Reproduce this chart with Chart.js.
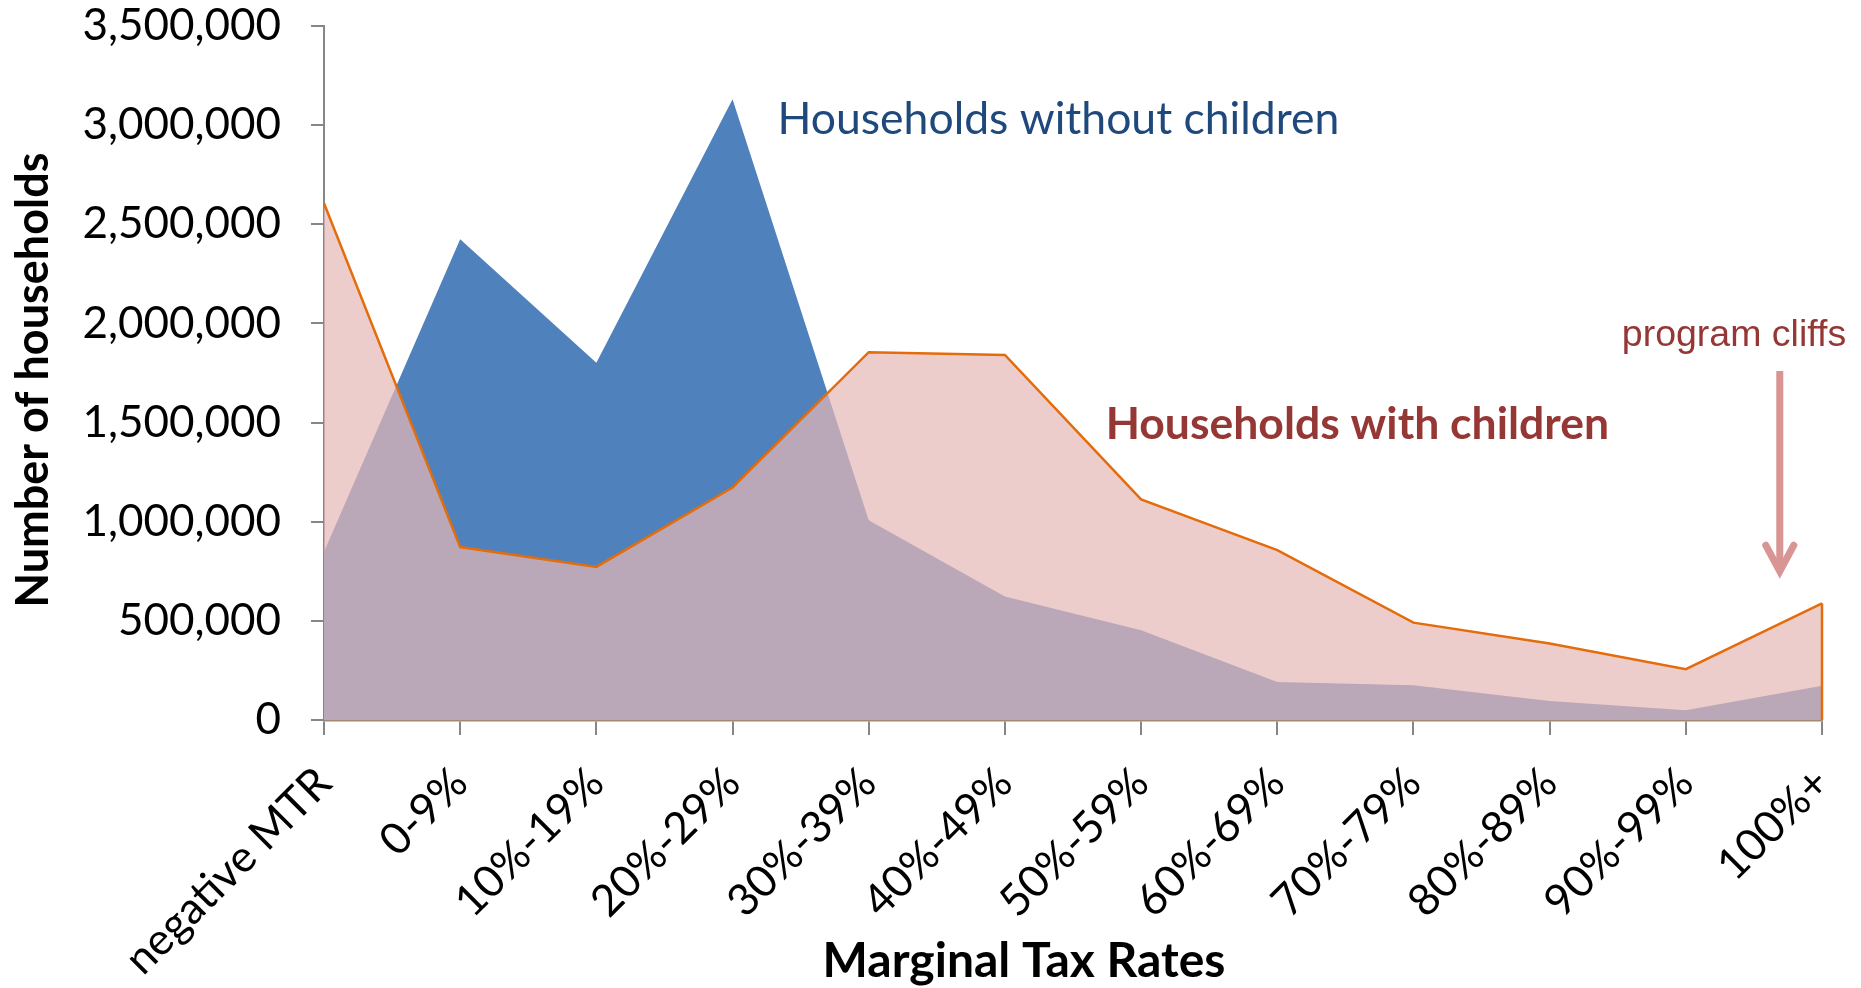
<!DOCTYPE html>
<html>
<head>
<meta charset="utf-8">
<script src="https://cdn.jsdelivr.net/npm/chart.js@4.4.1/dist/chart.umd.min.js"></script>
<style>
  html, body { margin: 0; padding: 0; background: #ffffff; }
  #wrap { width: 1861px; height: 988px; }
</style>
</head>
<body>
<div id="wrap"><canvas id="c" width="1861" height="988"></canvas></div>
<script>
// ---- Data ----
const categories = ['negative MTR', '0-9%', '10%-19%', '20%-29%', '30%-39%', '40%-49%', '50%-59%', '60%-69%', '70%-79%', '80%-89%', '90%-99%', '100%+'];
const withChildren = [2606000, 872000, 772000, 1172000, 1855000, 1841000, 1113000, 857000, 491000, 386000, 256000, 588000];
const withoutChildren = [849000, 2424000, 1802000, 3130000, 1007000, 623000, 452000, 192000, 175000, 96000, 49000, 173000];
const yTicks = [0, 500000, 1000000, 1500000, 2000000, 2500000, 3000000, 3500000];

const seriesNames = ['Households with children', 'Households without children'];
const annotationTexts = { without: 'Households without children', with: 'Households with children', cliffs: 'program cliffs' };
const xTitle = 'Marginal Tax Rates';
const yTitle = 'Number of households';

const annotationPlugin = {
  id: 'annotations',
  afterDatasetsDraw(chart) {
    const ctx = chart.ctx;
    const xs = chart.scales.x, ys = chart.scales.y;
    const last = withChildren.length - 1;
    ctx.save();
    ctx.strokeStyle = '#E46C0A';
    ctx.lineWidth = 2.5;
    ctx.beginPath();
    ctx.moveTo(xs.getPixelForValue(last), ys.getPixelForValue(withChildren[last]));
    ctx.lineTo(xs.getPixelForValue(last), ys.getPixelForValue(0));
    ctx.stroke();
    ctx.restore();
  },
  afterDraw(chart) {
    const ctx = chart.ctx;
    const xs = chart.scales.x, ys = chart.scales.y;
    ctx.save();
    ctx.textBaseline = 'middle';
    ctx.textAlign = 'left';
    ctx.fillStyle = '#1F497D';
    ctx.font = '44.5px Lato';
    ctx.fillText(annotationTexts.without, xs.getPixelForValue(3.33), ys.getPixelForValue(3030000));
    ctx.fillStyle = '#953735';
    ctx.font = 'bold 44.5px Lato';
    ctx.fillText(annotationTexts.with, xs.getPixelForValue(5.74), ys.getPixelForValue(1488000));
    ctx.font = '37.5px "Liberation Sans"';
    ctx.fillText(annotationTexts.cliffs, xs.getPixelForValue(9.53), ys.getPixelForValue(1937000));
    // arrow
    const ax = xs.getPixelForValue(10.69);
    const aTop = ys.getPixelForValue(1760000);
    const aTip = ys.getPixelForValue(730000);
    ctx.strokeStyle = '#D99594';
    ctx.lineWidth = 7;
    ctx.lineCap = 'butt';
    ctx.beginPath();
    ctx.moveTo(ax, aTop);
    ctx.lineTo(ax, aTip - 4);
    ctx.stroke();
    ctx.lineCap = 'round';
    ctx.lineJoin = 'miter';
    ctx.beginPath();
    ctx.moveTo(ax - 14, aTip - 30);
    ctx.lineTo(ax, aTip - 4);
    ctx.lineTo(ax + 14, aTip - 30);
    ctx.stroke();
    // axis titles
    ctx.fillStyle = '#000000';
    ctx.font = 'bold 48px Lato';
    ctx.textAlign = 'center';
    ctx.fillText(xTitle, 1024, 962);
    ctx.translate(33, 380);
    ctx.rotate(-Math.PI / 2);
    ctx.font = 'bold 45px Lato';
    ctx.fillText(yTitle, 0, 0);
    ctx.restore();
  }
};

function build() {
  new Chart(document.getElementById('c'), {
    type: 'line',
    data: {
      labels: categories,
      datasets: [
        {
          label: seriesNames[0],
          data: withChildren,
          fill: 'origin',
          backgroundColor: 'rgba(230,184,183,0.71)',
          borderColor: '#E46C0A',
          borderWidth: 2.5,
          pointRadius: 0,
          tension: 0
        },
        {
          label: seriesNames[1],
          data: withoutChildren,
          fill: 'origin',
          backgroundColor: '#4F81BD',
          borderColor: '#4F81BD',
          borderWidth: 0,
          pointRadius: 0,
          tension: 0
        }
      ]
    },
    options: {
      responsive: false,
      animation: false,
      devicePixelRatio: 1,
      layout: { padding: { left: 0, right: 39, top: 26, bottom: 0 } },
      plugins: { legend: { display: false }, tooltip: { enabled: false } },
      scales: {
        x: {
          type: 'category',
          offset: false,
          grid: { drawOnChartArea: false, drawTicks: true, tickLength: 15, color: '#868686', lineWidth: 2 },
          border: { color: '#A8866F', width: 2.5 },
          ticks: {
            autoSkip: false, maxRotation: 45, minRotation: 45,
            color: '#000000', font: { family: 'Lato', size: 44 }, padding: 22
          },
          title: { display: false },
          afterFit: (s) => { s.height = 268; s.paddingLeft = 0; s.paddingRight = 0; }
        },
        y: {
          min: 0, max: 3500000,
          afterBuildTicks: (s) => { s.ticks = yTicks.map(v => ({ value: v })); },
          grid: { drawOnChartArea: false, drawTicks: true, tickLength: 13, color: '#868686', lineWidth: 2 },
          border: { color: '#868686', width: 2 },
          ticks: {
            color: '#000000', font: { family: 'Lato', size: 44 }, padding: 30,
            callback: (v) => Number(v).toLocaleString('en-US')
          },
          title: { display: false },
          afterFit: (s) => { s.width = 324; s.paddingTop = 0; s.paddingBottom = 0; }
        }
      }
    },
    plugins: [annotationPlugin]
  });
}

const fontLoads = ['44px Lato', 'bold 45px Lato', '37.5px "Liberation Sans"'].map(f => document.fonts.load(f).catch(() => null));
Promise.all(fontLoads).then(build, build);
</script>
</body>
</html>
